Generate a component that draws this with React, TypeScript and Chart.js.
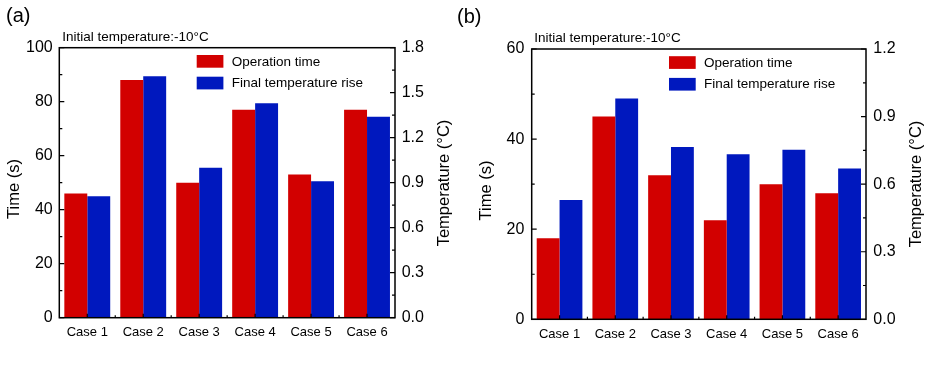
import React, { useEffect, useRef } from "react";
import { Chart, registerables } from "chart.js";

Chart.register(...registerables);

const FONT = "'Liberation Sans', Arial, sans-serif";

const categories = ["Case 1", "Case 2", "Case 3", "Case 4", "Case 5", "Case 6"];

// Panel (a)
const timeA = [46, 88, 50, 77, 53, 77];
const tempA = [0.81, 1.61, 1.0, 1.43, 0.91, 1.34];
const timeTicksA = [0, 20, 40, 60, 80, 100];
const tempTicksA = [0, 0.3, 0.6, 0.9, 1.2, 1.5, 1.8];

// Panel (b)
const timeB = [18, 45, 32, 22, 30, 28];
const tempB = [0.53, 0.98, 0.765, 0.733, 0.753, 0.67];
const timeTicksB = [0, 20, 40, 60];
const tempTicksB = [0, 0.3, 0.6, 0.9, 1.2];

const seriesNames = ["Operation time", "Final temperature rise"];
const note = "Initial temperature:-10°C";
const RED = "#D20000";
const BLUE = "#0018BE";

const H = 373;

type Pt = { x: number; y: number };
type PanelSpec = {
  label: string;
  time: number[];
  temp: number[];
  timeTicks: number[];
  tempTicks: number[];
  // canvas placement on the page
  offset: number;
  width: number;
  // plot frame, page coordinates
  box: { left: number; right: number; top: number; bottom: number };
  labelPos: Pt;
  notePos: Pt;
  legendPos: Pt;
  timeTitle: Pt;
  tempTitle: Pt;
  leftPad: number;
  rightPad: number;
};

function makeDecorPlugin(p: PanelSpec) {
  const o = p.offset;
  return {
    id: "panelDecor",
    afterDraw(chart: any) {
      const ctx = chart.ctx as CanvasRenderingContext2D;
      const area = chart.chartArea;
      const yL = chart.scales.yTime;
      const yR = chart.scales.yTemp;
      const x = chart.scales.x;
      ctx.save();
      ctx.strokeStyle = "#000";
      ctx.lineWidth = 1.5;
      ctx.strokeRect(area.left, area.top, area.right - area.left, area.bottom - area.top);

      ctx.lineWidth = 1.2;
      ctx.beginPath();
      // left axis: major + minor ticks, inward
      const tL = p.timeTicks;
      const stepL = tL[1] - tL[0];
      for (let i = 0; i < tL.length; i++) {
        const py = yL.getPixelForValue(tL[i]);
        ctx.moveTo(area.left, py);
        ctx.lineTo(area.left + 5, py);
        if (i < tL.length - 1) {
          const my = yL.getPixelForValue(tL[i] + stepL / 2);
          ctx.moveTo(area.left, my);
          ctx.lineTo(area.left + 3, my);
        }
      }
      // right axis
      const tR = p.tempTicks;
      const stepR = tR[1] - tR[0];
      for (let i = 0; i < tR.length; i++) {
        const py = yR.getPixelForValue(tR[i]);
        ctx.moveTo(area.right, py);
        ctx.lineTo(area.right - 5, py);
        if (i < tR.length - 1) {
          const my = yR.getPixelForValue(tR[i] + stepR / 2);
          ctx.moveTo(area.right, my);
          ctx.lineTo(area.right - 3, my);
        }
      }
      // bottom axis: ticks at category centres, minor ticks at boundaries
      for (let i = 0; i < categories.length; i++) {
        const cx = x.getPixelForValue(i);
        ctx.moveTo(cx, area.bottom);
        ctx.lineTo(cx, area.bottom - 4);
        if (i > 0) {
          const bx = (x.getPixelForValue(i - 1) + cx) / 2;
          ctx.moveTo(bx, area.bottom);
          ctx.lineTo(bx, area.bottom - 2.5);
        }
      }
      ctx.stroke();

      // panel label
      ctx.fillStyle = "#000";
      ctx.textBaseline = "middle";
      ctx.textAlign = "left";
      ctx.font = `20px ${FONT}`;
      ctx.fillText(p.label, p.labelPos.x - o, p.labelPos.y);

      // note above the plot
      ctx.font = `13.5px ${FONT}`;
      ctx.fillText(note, p.notePos.x - o, p.notePos.y);

      // legend
      const colors = [RED, BLUE];
      for (let i = 0; i < 2; i++) {
        const ly = p.legendPos.y + i * 21.7;
        ctx.fillStyle = colors[i];
        ctx.fillRect(p.legendPos.x - o, ly - 6.3, 26.7, 12.7);
        ctx.fillStyle = "#000";
        ctx.fillText(seriesNames[i], p.legendPos.x - o + 35, ly + 0.5);
      }

      // axis titles, both reading bottom to top
      ctx.font = `16.5px ${FONT}`;
      ctx.textAlign = "center";
      ctx.save();
      ctx.translate(p.timeTitle.x - o, p.timeTitle.y);
      ctx.rotate(-Math.PI / 2);
      ctx.fillText("Time (s)", 0, 0);
      ctx.restore();
      ctx.save();
      ctx.translate(p.tempTitle.x - o, p.tempTitle.y);
      ctx.rotate(-Math.PI / 2);
      ctx.fillText("Temperature (°C)", 0, 0);
      ctx.restore();
      ctx.restore();
    },
  };
}

function Panel({ p }: { p: PanelSpec }) {
  const ref = useRef<HTMLCanvasElement | null>(null);
  useEffect(() => {
    if (!ref.current) return;
    const timeMax = p.timeTicks[p.timeTicks.length - 1];
    const tempMax = p.tempTicks[p.tempTicks.length - 1];
    const chart = new Chart(ref.current, {
      type: "bar",
      data: {
        labels: categories,
        datasets: [
          {
            label: seriesNames[0],
            data: p.time,
            backgroundColor: RED,
            yAxisID: "yTime",
            categoryPercentage: 0.82,
            barPercentage: 1,
          },
          {
            label: seriesNames[1],
            data: p.temp,
            backgroundColor: BLUE,
            yAxisID: "yTemp",
            categoryPercentage: 0.82,
            barPercentage: 1,
          },
        ],
      },
      options: {
        animation: false,
        responsive: false,
        maintainAspectRatio: false,
        layout: { padding: { top: p.box.top, left: 0, right: 0, bottom: 0 } },
        plugins: { legend: { display: false }, tooltip: { enabled: false }, title: { display: false } },
        scales: {
          x: {
            grid: { display: false, drawTicks: false },
            border: { display: false },
            ticks: { color: "#000", font: { family: FONT, size: 13 }, padding: 7, maxRotation: 0 },
            afterFit: (s: any) => {
              s.height = H - p.box.bottom;
            },
          },
          yTime: {
            position: "left",
            min: 0,
            max: timeMax,
            grid: { display: false, drawTicks: false },
            border: { display: false },
            afterBuildTicks: (s: any) => {
              s.ticks = p.timeTicks.map((v) => ({ value: v }));
            },
            ticks: { color: "#000", font: { family: FONT, size: 16 }, padding: p.leftPad },
            afterFit: (s: any) => {
              s.width = p.box.left - p.offset;
            },
          },
          yTemp: {
            position: "right",
            min: 0,
            max: tempMax,
            grid: { display: false, drawTicks: false },
            border: { display: false },
            afterBuildTicks: (s: any) => {
              s.ticks = p.tempTicks.map((v) => ({ value: v }));
            },
            ticks: {
              color: "#000",
              font: { family: FONT, size: 16 },
              padding: p.rightPad,
              callback: (v: any) => Number(v).toFixed(1),
            },
            afterFit: (s: any) => {
              s.width = p.offset + p.width - p.box.right;
            },
          },
        },
      },
      plugins: [makeDecorPlugin(p)],
    });
    return () => chart.destroy();
  }, [p]);
  return (
    <canvas
      ref={ref}
      width={p.width}
      height={H}
      style={{ position: "absolute", left: p.offset, top: 0, width: p.width, height: H }}
    />
  );
}

const panelA: PanelSpec = {
  label: "(a)",
  time: timeA,
  temp: tempA,
  timeTicks: timeTicksA,
  tempTicks: tempTicksA,
  offset: 0,
  width: 455,
  box: { left: 59.3, right: 395, top: 47.7, bottom: 317.7 },
  labelPos: { x: 6, y: 16 },
  notePos: { x: 62.3, y: 37.5 },
  legendPos: { x: 196.7, y: 61.3 },
  timeTitle: { x: 14.5, y: 189 },
  tempTitle: { x: 444, y: 183 },
  leftPad: 6.6,
  rightPad: 6.7,
};

const panelB: PanelSpec = {
  label: "(b)",
  time: timeB,
  temp: tempB,
  timeTicks: timeTicksB,
  tempTicks: tempTicksB,
  offset: 455,
  width: 477,
  box: { left: 531.7, right: 866, top: 49, bottom: 319.3 },
  labelPos: { x: 457, y: 17 },
  notePos: { x: 534.3, y: 38.5 },
  legendPos: { x: 669, y: 62.5 },
  timeTitle: { x: 486, y: 190.5 },
  tempTitle: { x: 916.7, y: 184 },
  leftPad: 7.4,
  rightPad: 7.3,
};

export default function App() {
  return (
    <div style={{ position: "fixed", left: 0, top: 0, width: 932, height: 373, background: "#fff", overflow: "hidden" }}>
      <Panel p={panelA} />
      <Panel p={panelB} />
    </div>
  );
}
